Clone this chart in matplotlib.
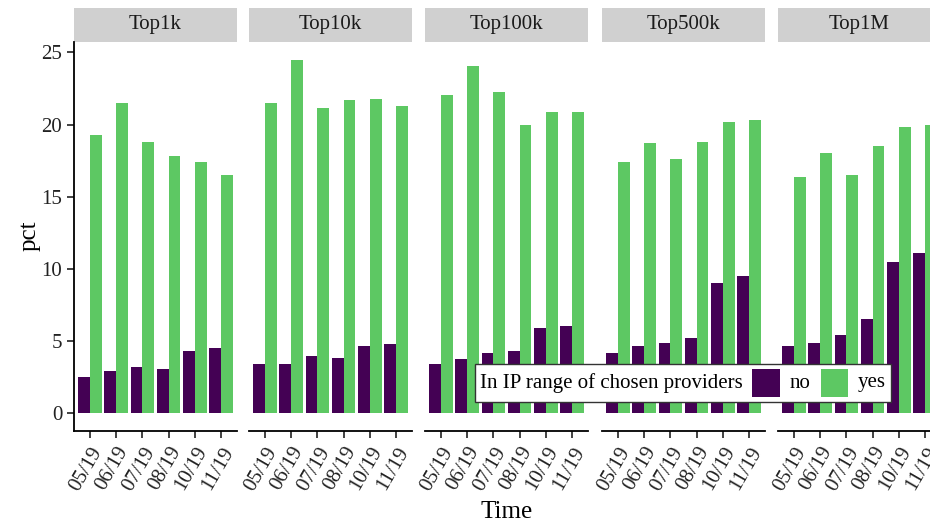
import numpy as np
import matplotlib
matplotlib.use('Agg')
import matplotlib.pyplot as plt
from matplotlib.patches import Rectangle
from matplotlib.offsetbox import HPacker, TextArea, DrawingArea, AnchoredOffsetbox

plt.rcParams['font.family'] = ['Liberation Serif', 'DejaVu Serif']

# Data
months = ['05/19', '06/19', '07/19', '08/19', '10/19', '11/19']
panels = ['Top1k', 'Top10k', 'Top100k', 'Top500k', 'Top1M']
groups = ['no', 'yes']
colors = ['#440154', '#5DC863']

no_top1k = [2.55, 2.9, 3.2, 3.1, 4.3, 4.5]
no_top10k = [3.45, 3.45, 3.95, 3.85, 4.65, 4.8]
no_top100k = [3.45, 3.75, 4.15, 4.35, 5.9, 6.05]
no_top500k = [4.15, 4.65, 4.9, 5.2, 9.05, 9.5]
no_top1m = [4.65, 4.9, 5.4, 6.55, 10.5, 11.1]

yes_top1k = [19.3, 21.5, 18.8, 17.85, 17.4, 16.5]
yes_top10k = [21.5, 24.5, 21.15, 21.7, 21.8, 21.3]
yes_top100k = [22.05, 24.05, 22.25, 19.95, 20.85, 20.85]
yes_top500k = [17.4, 18.7, 17.65, 18.8, 20.15, 20.35]
yes_top1m = [16.4, 18.05, 16.5, 18.5, 19.85, 19.95]

no_vals = [no_top1k, no_top10k, no_top100k, no_top500k, no_top1m]
yes_vals = [yes_top1k, yes_top10k, yes_top100k, yes_top500k, yes_top1m]

W, H = 930, 525
fig = plt.figure(figsize=(W / 100, H / 100), dpi=100)

panel_left = [74, 249, 425, 602, 778]
panel_w = 163
top_px, bot_px = 42, 431
strip_h = 34
fs = 15

x = np.arange(len(months))
bw = 0.45
ymax = max(max(v) for v in yes_vals)

for i, name in enumerate(panels):
    ax = fig.add_axes([panel_left[i] / W, 1 - bot_px / H,
                       panel_w / W, (bot_px - top_px) / H])
    ax.bar(x - bw / 2, no_vals[i], width=bw, color=colors[0])
    ax.bar(x + bw / 2, yes_vals[i], width=bw, color=colors[1])
    ax.set_xlim(-0.6, len(months) - 0.4)
    ax.set_ylim(-0.05 * ymax, ymax * 1.05)
    ax.set_xticks(x)
    ax.set_xticklabels(months, rotation=60, ha='right', va='top',
                       rotation_mode='anchor', fontsize=fs)
    ax.set_yticks([0, 5, 10, 15, 20, 25])
    for s in ['top', 'right']:
        ax.spines[s].set_visible(False)
    ax.spines['bottom'].set_linewidth(1.3)
    ax.spines['left'].set_linewidth(1.3)
    ax.tick_params(axis='both', direction='out', length=5, width=1.3,
                   labelsize=fs, color='#333333', labelcolor='#222222')
    ax.tick_params(axis='x', pad=4)
    if i == 0:
        ax.set_yticklabels(['0', '5', '10', '15', '20', '25'])
    else:
        ax.spines['left'].set_visible(False)
        ax.tick_params(axis='y', left=False, labelleft=False)
    # facet strip
    hh = strip_h / (bot_px - top_px)
    ax.add_patch(Rectangle((0, 1), 1, hh, transform=ax.transAxes,
                           facecolor='#D0D0D0', edgecolor='none', clip_on=False))
    ax.text(0.5, 1 + hh / 2, name, transform=ax.transAxes, ha='center',
            va='center', fontsize=fs, color='#1a1a1a')

fig.text(30 / W, 1 - 236 / H, 'pct', rotation=90, ha='center', va='center',
         fontsize=18)
fig.text(507 / W, 1 - 512 / H, 'Time', ha='center', va='center', fontsize=18)

# legend inside the plot: title on the left, keys horizontal
items = [TextArea('In IP range of chosen providers', textprops=dict(fontsize=fs))]
for lab, col in zip(groups, colors):
    da = DrawingArea(20, 20, 0, 0)
    da.add_artist(Rectangle((0, 0), 20, 20, facecolor=col, edgecolor='none'))
    items.append(da)
    items.append(TextArea(lab, textprops=dict(fontsize=fs)))
box = HPacker(children=items, align='center', pad=0, sep=7)
leg = AnchoredOffsetbox(loc='center', child=box, pad=0.25, borderpad=0,
                        frameon=True, bbox_to_anchor=(683 / W, 1 - 383 / H),
                        bbox_transform=fig.transFigure, prop=dict(size=fs))
leg.patch.set_edgecolor('#333333')
leg.patch.set_linewidth(1.0)
fig.add_artist(leg)

plt.savefig('out.png', dpi=100)
plt.close()
